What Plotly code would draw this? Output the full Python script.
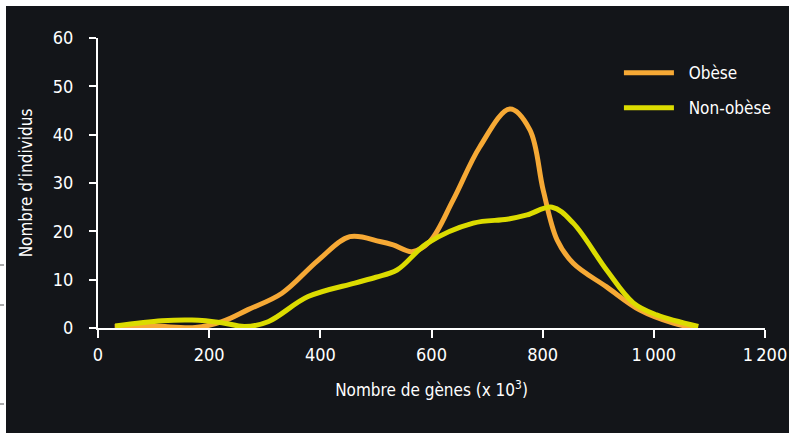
import plotly.graph_objects as go

obese_x = [30, 100, 175, 223, 270, 331, 396, 453, 507, 531, 565, 597, 639, 687, 741, 777, 801, 826, 855, 915, 975, 1035, 1071]
obese_y = [0.3, 0.4, 0.1, 1.3, 3.8, 7.2, 14, 18.9, 17.9, 17.2, 15.8, 17.9, 26.5, 37.5, 45.3, 41, 28.5, 18.2, 13.4, 8.5, 3.7, 1.0, 0.1]

nonob_x = [31, 115, 169, 223, 264, 306, 378, 462, 500, 538, 592, 675, 736, 772, 817, 855, 915, 963, 1005, 1080]
nonob_y = [0.4, 1.5, 1.65, 1.1, 0.3, 1.3, 6.5, 9.3, 10.5, 12, 17.5, 21.7, 22.5, 23.4, 25, 21.7, 12, 5.2, 2.7, 0.3]

x_ticks = [0, 200, 400, 600, 800, 1000, 1200]
x_ticklabels = ["0", "200", "400", "600", "800", "1\u2009000", "1\u2009200"]
y_ticks = [0, 10, 20, 30, 40, 50, 60]

FONT = "Liberation Sans Narrow, DejaVu Sans Condensed, Roboto Condensed, Arial Narrow, sans-serif"
BG = "#131519"
ORANGE = "#F6A935"
YELLOW = "#DCDC00"

fig = go.Figure()
fig.add_trace(go.Scatter(x=obese_x, y=obese_y, mode="lines", name="\u00a0\u00a0Obèse",
                         line=dict(color=ORANGE, width=5, shape="spline", smoothing=1.0),
                         legendgroup="a"))
fig.add_trace(go.Scatter(x=nonob_x, y=nonob_y, mode="lines", name="\u00a0\u00a0Non-obèse",
                         line=dict(color=YELLOW, width=5, shape="spline", smoothing=1.0),
                         legendgroup="b"))

W, H = 789, 433
L, R, T, B = 98, 24, 38, 105
pw, ph = W - L - R, H - T - B

def px_x(p):
    return (p - L) / pw

def px_y(p):
    return (H - B - p) / ph

shapes = [
    dict(type="rect", xref="paper", yref="paper", x0=px_x(0), x1=px_x(6), y0=px_y(H), y1=px_y(0),
         fillcolor="white", line=dict(width=0), layer="above"),
    dict(type="rect", xref="paper", yref="paper", x0=px_x(0), x1=px_x(W), y0=px_y(6), y1=px_y(0),
         fillcolor="white", line=dict(width=0), layer="above"),
]
for yy in [265, 305, 404]:
    shapes.append(dict(type="line", xref="paper", yref="paper", x0=px_x(0), x1=px_x(4),
                       y0=px_y(yy), y1=px_y(yy), line=dict(color="#555", width=1), layer="above"))

fig.update_layout(
    width=W, height=H,
    margin=dict(l=L, r=R, t=T, b=B, pad=0, autoexpand=False),
    paper_bgcolor=BG, plot_bgcolor=BG,
    font=dict(family=FONT, color="white", size=16),
    showlegend=True,
    legend=dict(x=0.781, y=0.941, xanchor="left", yanchor="top", bgcolor="rgba(0,0,0,0)",
                font=dict(size=17, color="white"), traceorder="grouped", tracegroupgap=10,
                itemwidth=50),
    shapes=shapes,
    xaxis=dict(range=[0, 1200], tickvals=x_ticks, ticktext=x_ticklabels, showgrid=False,
               zeroline=False, showline=True, linecolor="white", linewidth=2,
               ticks="outside", ticklen=8, tickwidth=2, tickcolor="white",
               ticklabelstandoff=1, automargin=False,
               tickfont=dict(size=18), title=dict(text="Nombre de gènes (x 10<sup>3</sup>)",
                                                  font=dict(size=17), standoff=21)),
    yaxis=dict(range=[0, 60], tickvals=y_ticks, showgrid=False, zeroline=False,
               showline=True, linecolor="white", linewidth=2,
               ticks="outside", ticklen=7, tickwidth=2, tickcolor="white",
               ticklabelstandoff=12, automargin=False,
               tickfont=dict(size=18), title=dict(text="Nombre d\u2019individus",
                                                  font=dict(size=17), standoff=16)),
)

fig.write_html("out.html", config={"displayModeBar": False},
               post_script="document.body.style.margin='0';document.body.style.overflow='hidden';")
